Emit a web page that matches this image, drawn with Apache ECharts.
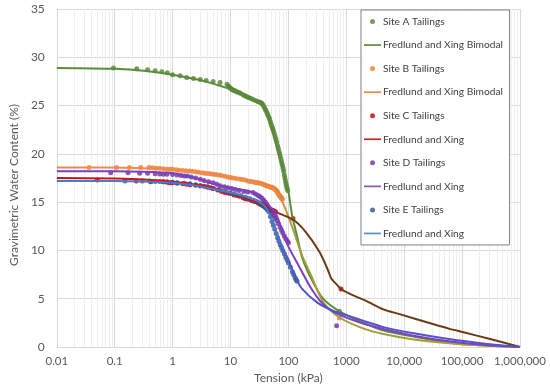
<!DOCTYPE html>
<html>
<head>
<meta charset="utf-8">
<script src="https://cdn.jsdelivr.net/npm/echarts@6/dist/echarts.min.js"></script>
<style>html,body{margin:0;padding:0;background:#fff;}#c{width:550px;height:389px;}</style>
</head>
<body>
<div id="c"></div>
<script>
// ---- tick labels ----
const xTickLabels = ['0.01','0.1','1','10','100','1000','10,000','100,000','1,000,000'];
const yTicks = [0,5,10,15,20,25,30,35];

// ---- Site A ----
const siteA_tension = [0.095,0.24,0.37,0.5,0.65,0.81,1.0,1.35,1.75,2.3,3.0,3.8,5.0,6.6,8.7,9.2,9.6,10,10.5,11,11.6,12.2,13,14,15,16.6,18,19.5,21,23,25,27.5,30,32,34,35.5,37,38.5,40,41.5,43,44.5,46,47.5,49,50.5,52,53.5,55,57,59,61,63,65,67,69,71,73,75,77,79,81,83,85,87,89,91,93,95,97,760];
const siteA_water   = [28.9,28.8,28.7,28.6,28.5,28.4,28.2,28.1,27.9,27.8,27.7,27.6,27.5,27.4,27.2,27.0,26.9,26.8,26.7,26.6,26.55,26.5,26.4,26.35,26.25,26.1,26.0,25.9,25.8,25.7,25.6,25.5,25.4,25.35,25.3,25.15,25.0,24.8,24.6,24.4,24.2,24.0,23.8,23.55,23.3,23.05,22.8,22.6,22.4,22.1,21.8,21.5,21.2,20.85,20.55,20.25,19.95,19.65,19.35,19.05,18.8,18.5,18.2,17.8,17.5,17.2,16.9,16.65,16.4,16.2,3.7];
const fitA_tension = [0.01,0.1,0.316,1,3.16,10,20,31.6,40,50,63,79,89,100,117,141,174,251,398,759,2000,4365,13800,58900,251000,1000000];
const fitA_water   = [28.9,28.8,28.6,28.2,27.6,26.7,26.0,25.3,24.8,23.0,20.8,18.5,17.3,16.1,13.5,11.5,9.2,7.0,5.0,3.7,2.5,1.7,1.1,0.45,0.15,0];

// ---- Site B ----
const siteB_tension = [0.036,0.107,0.18,0.28,0.39,0.45,0.52,0.6,0.7,0.8,0.9,1,1.15,1.3,1.5,1.7,1.95,2.2,2.5,2.8,3.2,3.6,4,4.5,5,5.6,6.3,7,8,9,10,11,12.5,14.5,16,18,20,22,24,26,28,30,32.5,35,37.5,40,42.5,45,47.5,50,52,54,56,58,60,62,64,66,68,70,72,74,76,79,760];
const siteB_water   = [18.6,18.6,18.6,18.6,18.6,18.55,18.5,18.5,18.45,18.4,18.4,18.4,18.35,18.3,18.28,18.25,18.22,18.2,18.15,18.1,18.05,18.0,17.97,17.95,17.9,17.85,17.8,17.75,17.68,17.6,17.55,17.5,17.45,17.4,17.35,17.3,17.2,17.15,17.1,17.05,17.02,17.0,16.95,16.9,16.82,16.75,16.7,16.65,16.6,16.55,16.52,16.5,16.42,16.35,16.28,16.2,16.1,15.95,15.8,15.7,15.6,15.5,15.45,15.3,3.0];
const fitB_tension = [0.01,0.1,0.316,1,4,14.5,31.6,54,68,79,100,132,174,251,309,417,794,2000,4365,13800,58900,251000,1000000];
const fitB_water   = [18.6,18.6,18.5,18.4,18.0,17.4,16.9,16.4,15.6,15.0,13.5,11.5,9.4,7.3,6.0,4.5,3.0,1.9,1.34,0.8,0.4,0.15,0];

// ---- Site C ----
const siteC_tension = [0.05,0.235,0.42,0.69,0.8,0.9,1,1.2,1.5,1.75,2,2.5,3,3.5,4,4.5,5,6,7,8,9,10,11.5,13,14.5,16.5,18,20,22.5,25,27.5,30,32,34.5,37,39.5,42,44.5,47,50,53,56.5,60,120,810];
const siteC_water   = [17.3,17.2,17.1,17.1,17.05,17.02,17.0,16.95,16.9,16.85,16.8,16.75,16.7,16.65,16.6,16.5,16.4,16.25,16.1,16.0,15.95,15.9,15.75,15.65,15.6,15.45,15.35,15.3,15.2,15.1,15.05,14.9,14.8,14.7,14.6,14.5,14.45,14.38,14.3,14.22,14.15,14.07,14.0,13.3,6.0];
const fitC_tension = [0.01,0.1,0.316,1,4,14.5,27.5,40,60,120,200,347,479,550,700,813,1259,2239,4365,8318,30200,58900,110000,316000,1000000];
const fitC_water   = [17.5,17.45,17.35,17.1,16.6,15.7,15.1,14.7,14.0,13.2,11.9,9.8,8.0,7.1,6.4,6.0,5.4,4.75,3.9,3.4,2.4,1.9,1.5,0.8,0];

// ---- Site D ----
const siteD_tension = [0.085,0.17,0.27,0.37,0.5,0.6,0.69,0.8,1.0,1.2,1.4,1.6,1.8,2.1,2.5,3,3.5,4.2,5,5.8,6.6,7.8,9,10.5,12,14,17,20,24.5,27,30,32.5,35,37.5,40,42.5,45,47.5,50,53,56,59.5,63,67,72,76,80,85,90,95,100,680];
const siteD_water   = [18.05,18.05,18.0,18.0,17.95,17.92,17.9,17.88,17.85,17.8,17.75,17.72,17.7,17.6,17.5,17.38,17.25,17.12,17.0,16.85,16.7,16.6,16.5,16.4,16.3,16.2,16.1,16.05,16.0,15.85,15.7,15.55,15.4,15.2,15.0,14.75,14.5,14.3,14.1,13.85,13.6,13.35,13.1,12.75,12.4,12.1,11.8,11.5,11.2,11.0,10.8,2.2];
const fitD_tension = [0.01,0.1,0.316,1,1.8,3.16,6.6,10,24.5,40,50,60,79,100,148,251,417,794,2000,4365,13800,58900,251000,1000000];
const fitD_water   = [18.2,18.2,18.15,18.0,17.7,17.3,16.7,16.5,16.0,15.1,14.4,13.9,12.0,10.4,8.5,6.0,4.3,3.3,2.4,1.86,1.2,0.6,0.2,0];

// ---- Site E ----
const siteE_tension = [0.15,0.3,0.4,0.5,0.6,0.7,0.8,1.0,1.2,1.6,2,2.5,3,4,5,6.5,8,10,12,15,18,21.5,25,28.5,32,35,38,40.5,43,46,49,52,55,58,61.5,65,68.5,72,76,80,85,90,95,100,108,117,123,130,135,141];
const siteE_water   = [17.2,17.2,17.18,17.15,17.13,17.11,17.1,17.05,17.0,16.95,16.9,16.8,16.7,16.55,16.4,16.25,16.1,15.95,15.8,15.65,15.5,15.35,15.2,15.05,14.9,14.75,14.6,14.4,14.2,14.0,13.5,13.0,12.6,12.2,11.75,11.3,10.95,10.6,10.3,10.0,9.65,9.3,9.0,8.7,8.25,7.8,7.5,7.2,7.0,6.8];
const fitE_tension = [0.01,0.1,0.316,1,3.16,10,20,31.6,40,50,63,79,100,141,174,316,617,1000,2000,4365,13800,58900,251000,1000000];
const fitE_water   = [17.2,17.2,17.15,17.0,16.6,16.0,15.5,15.0,14.5,13.4,11.8,10.3,9.0,6.9,6.0,4.6,3.7,3.3,2.7,2.06,1.45,0.83,0.35,0];

// ---- minor decade multipliers for vertical minor gridlines ----
const minorMultipliers = [2,3,4,5,6,7,8,9];
const decadeStarts = [0.01,0.1,1,10,100,1000,10000,100000];

function pairs(xs, ys) { return xs.map((x, i) => [x, ys[i]]); }
const minorLines = [];
decadeStarts.forEach(d => minorMultipliers.forEach(m => minorLines.push({ xAxis: d * m })));

const FONT = 'Lato';
const chart = echarts.init(document.getElementById('c'), null, { renderer: 'canvas' });

function hgrad(c1, c2, stop) {
  return new echarts.graphic.LinearGradient(0, 0, 1, 0, [
    { offset: 0, color: c1 }, { offset: stop, color: c1 },
    { offset: Math.min(1, stop + 0.04), color: c2 }, { offset: 1, color: c2 }
  ]);
}

const names = ['Site A Tailings','Fredlund and Xing Bimodal','Site B Tailings','Fredlund and Xing Bimodal ','Site C Tailings','Fredlund and Xing','Site D Tailings','Fredlund and Xing ','Site E Tailings','Fredlund and Xing  '];
const markerColors = ['#548235','#ED7D31','#C00000','#7030A0','#2F5597'];
const lineColors = ['#5B8C3A','#F08A4B','#D0202A','#8E52BE','#5B8DC8'];
const lineIcon = 'path://M0,0L20,0L20,2L0,2Z';

function scatter(name, xs, ys, color) {
  return { name, type: 'scatter', data: pairs(xs, ys), symbol: 'circle', symbolSize: 5,
           itemStyle: { color }, z: 3 };
}
function fit(name, xs, ys, legendColor, stroke) {
  return { name, type: 'line', data: pairs(xs, ys), showSymbol: false, symbol: 'none',
           smooth: 0.25, itemStyle: { color: legendColor },
           lineStyle: { width: 2, color: stroke }, z: 4 };
}

const option = {
  backgroundColor: '#ffffff',
  animation: false,
  textStyle: { fontFamily: FONT },
  grid: { left: 46, right: 30, top: 9, bottom: 41, containLabel: false },
  legend: {
    orient: 'vertical', left: 361, top: 10, z: 20,
    padding: [6.5, 4, 6.5, 3],
    itemWidth: 17, itemHeight: 5, itemGap: 13.55,
    backgroundColor: '#ffffff', borderColor: '#7f7f7f', borderWidth: 1, borderRadius: 0,
    itemStyle: { borderWidth: 0 },
    textStyle: { fontFamily: FONT, fontSize: 10.2, color: '#404040', padding: [0, 0, 0, -3] },
    data: names.map((n, i) => i % 2 === 0
      ? { name: n, icon: 'circle', itemStyle: { color: markerColors[i / 2], borderWidth: 0 } }
      : { name: n, icon: lineIcon, itemStyle: { color: lineColors[(i - 1) / 2], borderWidth: 0 } })
  },
  xAxis: {
    type: 'log', logBase: 10, min: 0.01, max: 1000000, interval: 1, splitNumber: 8,
    name: 'Tension (kPa)', nameLocation: 'middle', nameGap: 25,
    nameTextStyle: { fontFamily: FONT, fontSize: 12, color: '#595959' },
    axisLine: { show: true, lineStyle: { color: '#d9d9d9', width: 1 } },
    axisTick: { show: false },
    axisLabel: { margin: 8, fontFamily: FONT, fontSize: 11.5, color: '#595959',
      formatter: v => xTickLabels[Math.round(Math.log10(v)) + 2] },
    splitLine: { show: true, lineStyle: { color: '#d9d9d9', width: 1 } }
  },
  yAxis: {
    type: 'value', min: yTicks[0], max: yTicks[yTicks.length - 1], interval: 5,
    name: 'Gravimetric Water Content (%)', nameLocation: 'middle', nameGap: 27,
    nameTextStyle: { fontFamily: FONT, fontSize: 12, color: '#595959', padding: [0, 14, 0, 0] },
    axisLine: { show: false }, axisTick: { show: false },
    axisLabel: { margin: 12, fontFamily: FONT, fontSize: 12, color: '#595959' },
    splitLine: { show: true, lineStyle: { color: '#d9d9d9', width: 1 } }
  },
  series: [
    { name: 'minor', type: 'line', data: [], silent: true, z: 1,
      markLine: { silent: true, z: 1, symbol: ['none', 'none'], label: { show: false },
        lineStyle: { color: '#efefef', type: 'solid', width: 1 }, data: minorLines, animation: false } },
    scatter(names[0], siteA_tension, siteA_water, markerColors[0]),
    fit(names[1], fitA_tension, fitA_water, lineColors[0], '#5B8C3A'),
    scatter(names[2], siteB_tension, siteB_water, markerColors[1]),
    fit(names[3], fitB_tension, fitB_water, lineColors[1], hgrad('#F08A4B', '#A29C3A', 0.47)),
    scatter(names[4], siteC_tension, siteC_water, markerColors[2]),
    fit(names[5], fitC_tension, fitC_water, lineColors[2], hgrad('#C8141E', '#6E3A16', 0.46)),
    scatter(names[6], siteD_tension, siteD_water, markerColors[3]),
    fit(names[7], fitD_tension, fitD_water, lineColors[3], '#7E3FC0'),
    scatter(names[8], siteE_tension, siteE_water, markerColors[4]),
    fit(names[9], fitE_tension, fitE_water, lineColors[4], hgrad('#4A7CC4', '#5353C8', 0.47))
  ]
};
chart.setOption(option);
</script>
</body>
</html>
